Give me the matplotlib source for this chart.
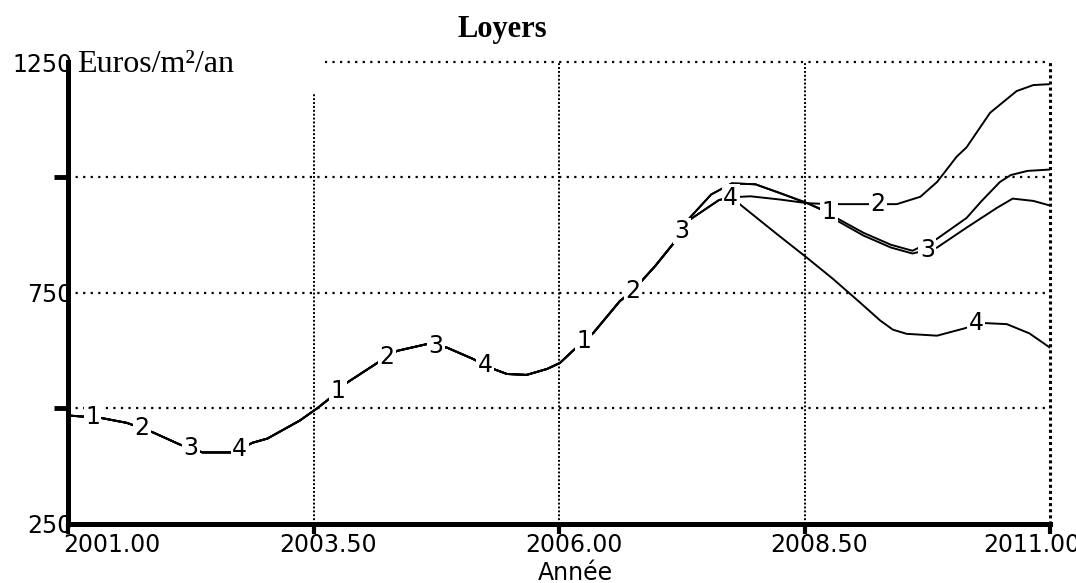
import numpy as np
import matplotlib.pyplot as plt
from matplotlib.patches import Rectangle

# shared path of the four runs up to 2007.2
years_common = [2001.0, 2001.33, 2001.6, 2001.87, 2002.14, 2002.37, 2002.68, 2002.88,
                2003.03, 2003.36, 2003.54, 2003.7, 2003.84, 2004.15, 2004.35, 2004.66,
                2004.86, 2005.12, 2005.33, 2005.47, 2005.67, 2005.88, 2006.01, 2006.14,
                2006.35, 2006.62, 2006.75, 2006.98, 2007.2]
loyer_common = [484, 479, 468, 447, 421, 404, 404, 425,
                434, 473, 500, 527, 555, 598, 624, 639,
                631, 607, 585, 574, 572, 585, 598, 624,
                663, 732, 754, 808, 866]

years_1 = [2007.33, 2007.55, 2007.76, 2008.0, 2008.25, 2008.53, 2008.76, 2008.8, 2009.1,
           2009.38, 2009.6, 2009.85, 2010.15, 2010.3, 2010.49, 2010.6, 2010.77, 2011.0]
loyer_1 = [912, 963, 987, 985, 966, 944, 923, 915, 880,
           854, 841, 867, 912, 948, 990, 1005, 1014, 1017]

years_2 = [2007.33, 2007.63, 2007.77, 2007.95, 2008.25, 2008.53, 2008.76, 2009.27, 2009.44,
           2009.68, 2009.85, 2010.05, 2010.15, 2010.39, 2010.66, 2010.83, 2011.0]
loyer_2 = [908, 951, 957, 959, 952, 944, 942, 942, 942,
           958, 990, 1045, 1065, 1140, 1187, 1200, 1202]

years_3 = [2007.33, 2007.55, 2007.76, 2008.0, 2008.25, 2008.53, 2008.76, 2008.8, 2009.1,
           2009.38, 2009.6, 2009.85, 2010.15, 2010.46, 2010.62, 2010.83, 2011.0]
loyer_3 = [912, 963, 987, 985, 966, 944, 921, 910, 874,
           848, 835, 848, 891, 934, 954, 949, 939]

years_4 = [2007.33, 2007.63, 2007.77, 2007.84, 2008.22, 2008.53, 2008.79, 2009.07, 2009.27,
           2009.4, 2009.54, 2009.85, 2010.15, 2010.26, 2010.56, 2010.79, 2011.0]
loyer_4 = [908, 951, 957, 942, 877, 825, 780, 728, 690,
           670, 661, 657, 674, 685, 682, 662, 631]

runs = ["1", "2", "3", "4"]
tails = [(years_1, loyer_1), (years_2, loyer_2), (years_3, loyer_3), (years_4, loyer_4)]

x_ticks = [2001.0, 2003.5, 2006.0, 2008.5, 2011.0]
x_labels = ["2001.00", "2003.50", "2006.00", "2008.50", "2011.00"]
y_ticks = [250, 750, 1250]
y_labels = ["250", "750", "1250"]
y_minor = [500, 1000]
grid_y = [500, 750, 1000, 1250]
grid_x = [2003.5, 2006.0, 2008.5, 2011.0]

fig = plt.figure(figsize=(10.76, 5.83), dpi=100)
ax = fig.add_axes([68 / 1076, 59.5 / 583, 982 / 1076, 461.5 / 583])
ax.set_xlim(2001, 2011)
ax.set_ylim(250, 1250)

for gy in grid_y:
    ax.axhline(gy, color="black", lw=1.6, ls=(0, (1, 2.4)), zorder=1, clip_on=False)
for gx in grid_x:
    ax.axvline(gx, color="black", lw=1.4 if gx < 2011 else 2.2, ls=(0, (1, 1)), zorder=1, clip_on=False)

# blank corner behind the unit label
ax.add_patch(Rectangle((2001, 1181), 2.62, 90, facecolor="white", edgecolor="none",
                       zorder=1.5, clip_on=False))

for name, (ty, tv) in zip(runs, tails):
    yrs = np.array(years_common + ty)
    vals = np.array(loyer_common + tv)
    ax.plot(yrs, vals, color="black", lw=1.4, zorder=2)
    k = int(name) - 1
    for j in range(4):
        lx = 2001.25 + 0.5 * k + 2.5 * j
        ly = np.interp(lx, yrs, vals)
        ax.text(lx, ly, name, ha="center", va="center", fontsize=17, zorder=3,
                bbox=dict(boxstyle="square,pad=0.06", fc="white", ec="none"))

for s in ["top", "right"]:
    ax.spines[s].set_visible(False)
ax.spines["left"].set_linewidth(3.6)
ax.spines["bottom"].set_linewidth(3.6)
ax.spines["left"].set_zorder(4)
ax.spines["bottom"].set_zorder(4)

ax.set_xticks(x_ticks)
ax.tick_params(axis="x", length=7, width=3, direction="out", labelbottom=False)
x_offsets = [-5, 15, 15, 15, -67]
x_align = ["left", "center", "center", "center", "left"]
for xt, lab, off, al in zip(x_ticks, x_labels, x_offsets, x_align):
    ax.annotate(lab, xy=(xt, 0), xycoords=("data", "axes fraction"),
                xytext=(off, -10), textcoords="offset pixels",
                ha=al, va="top", fontsize=17, annotation_clip=False)

ax.set_yticks(y_ticks, y_labels)
ax.set_yticks(y_minor, minor=True)
ax.tick_params(axis="y", which="major", length=0, pad=-3, labelsize=17)
ax.tick_params(axis="y", which="minor", length=10, width=3.5)

ax.annotate("Euros/m²/an", xy=(0, 1), xycoords="axes fraction",
            xytext=(9, -3), textcoords="offset pixels", ha="left", va="center",
            fontsize=23, family="Liberation Serif", annotation_clip=False)

fig.text(502 / 1076, 1 - 37 / 583, "Loyers", ha="center", va="baseline",
         fontsize=22, fontweight="bold", family="Liberation Serif")
fig.text(575 / 1076, 1 - 580 / 583, "Année", ha="center", va="baseline", fontsize=17)

fig.savefig("out.png", dpi=100)
